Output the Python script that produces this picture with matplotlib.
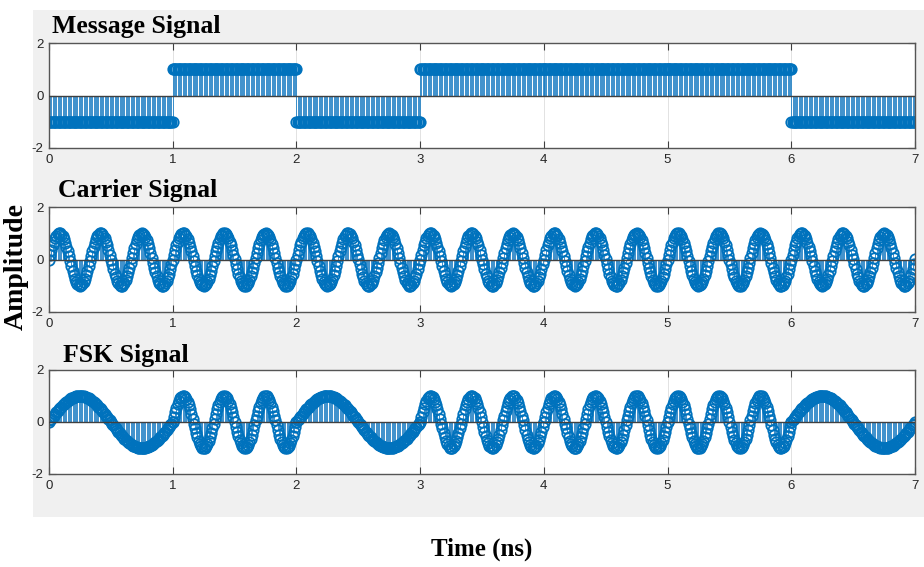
import numpy as np
import matplotlib
matplotlib.use("Agg")
import matplotlib.pyplot as plt
from matplotlib.patches import Rectangle

# ---- data ----
bits = [-1, 1, -1, 1, 1, 1, -1]          # message bits per ns
carrier_freq = 3.0                        # cycles per ns
fsk_freq_one = 3.0                        # cycles per ns for bit +1
fsk_freq_zero = 1.0                       # cycles per ns for bit -1
samples_per_bit = 101                     # stems per ns segment
x_ticks = [0, 1, 2, 3, 4, 5, 6, 7]
y_ticks = [-2, 0, 2]
titles = ["Message Signal", "Carrier Signal", "FSK Signal"]

# ---- build sampled signals ----
msg_t, msg_y, fsk_t, fsk_y = [], [], [], []
for i, b in enumerate(bits):
    t = np.linspace(i, i + 1, samples_per_bit)
    msg_t.append(t); msg_y.append(np.full_like(t, b))
    f = fsk_freq_one if b > 0 else fsk_freq_zero
    fsk_t.append(t); fsk_y.append(np.sin(2 * np.pi * f * t))
msg_t = np.concatenate(msg_t); msg_y = np.concatenate(msg_y)
fsk_t = np.concatenate(fsk_t); fsk_y = np.concatenate(fsk_y)
car_t = np.linspace(0, len(bits), len(bits) * (samples_per_bit - 1) + 1)
car_y = np.sin(2 * np.pi * carrier_freq * car_t)

series = [(msg_t, msg_y), (car_t, car_y), (fsk_t, fsk_y)]

W, H = 924, 567
fig = plt.figure(figsize=(W / 100, H / 100), dpi=100)
fig.patch.set_facecolor("white")
bg = Rectangle((33 / W, 1 - 517 / H), 1 - 33 / W, (517 - 10) / H,
               transform=fig.transFigure, facecolor="#f0f0f0",
               edgecolor="none", zorder=-10)
fig.patches.append(bg)

blue = "#0072BD"
tops = [43, 207, 370]
bots = [148, 312, 474]
title_pos = [(52, 33), (58, 197), (63, 362)]
left, right = 49, 915

for k, ((t, y), top, bot) in enumerate(zip(series, tops, bots)):
    ax = fig.add_axes([left / W, 1 - bot / H, (right - left) / W, (bot - top) / H])
    ax.set_zorder(1)
    ax.set_facecolor("white")
    ml, sl, bl = ax.stem(t, y, basefmt=" ")
    plt.setp(sl, color="#1f7fc4", linewidth=0.6)
    plt.setp(ml, marker="o", markersize=7.5, markerfacecolor="none",
             markeredgecolor=blue, markeredgewidth=1.3)
    ax.axhline(0, color="#404040", linewidth=1.0, zorder=3)
    ax.set_xlim(x_ticks[0], x_ticks[-1])
    ax.set_ylim(y_ticks[0], y_ticks[-1])
    ax.set_xticks(x_ticks)
    ax.set_yticks(y_ticks)
    ax.set_xticklabels([str(v) for v in x_ticks])
    ax.set_yticklabels([str(v) for v in y_ticks])
    ax.tick_params(direction="in", top=True, right=True, length=5,
                   width=0.8, color="#404040", labelsize=9.5,
                   labelcolor="#262626", pad=4)
    for lab in ax.get_xticklabels() + ax.get_yticklabels():
        lab.set_fontfamily("Liberation Sans")
    ax.grid(axis="x", color="#dddddd", linewidth=0.6, zorder=0)
    ax.set_axisbelow(True)
    for s in ax.spines.values():
        s.set_color("#555555")
        s.set_linewidth(1.0)
    tx, ty = title_pos[k]
    fig.text(tx / W, 1 - ty / H, titles[k], fontfamily="Liberation Serif",
             fontweight="bold", fontsize=18.5, ha="left", va="baseline",
             color="black", zorder=5)

fig.text(16 / W, 1 - 267 / H, "Amplitude", fontfamily="Liberation Serif",
         fontweight="bold", fontsize=20, rotation=90, ha="center",
         va="center", color="black", zorder=5)
fig.text(482 / W, 1 - 549 / H, "Time (ns)", fontfamily="Liberation Serif",
         fontweight="bold", fontsize=18, ha="center", va="center",
         color="black", zorder=5)

fig.savefig("out.png", dpi=100)
